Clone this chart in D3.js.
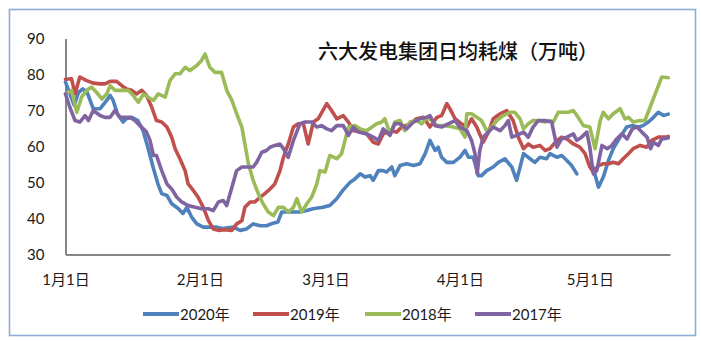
<!DOCTYPE html>
<html>
<head>
<meta charset="utf-8">
<script src="https://cdn.jsdelivr.net/npm/d3@7/dist/d3.min.js"></script>
<style>
  html, body { margin: 0; padding: 0; background: #fff; }
  svg { display: block; }
</style>
</head>
<body>
<div id="chart"></div>
<script>
// Daily average coal burn of the six big power groups (10k tonnes).
// Each series: [day offset from Jan 1, value]; null marks a gap.
const series2020 = [
  [0,77.9],[2,71.5],[3,75],[4,76],[5,75],[6.4,70.5],[8,70.5],[9.5,72.8],[10.3,74.2],[11,72.8],
  [12,69],[13.3,66.8],[14,67.7],[15.3,68.1],[16.7,67.2],[17.9,64.4],[19,59.8],[20.2,54.3],[21.3,49.7],
  [22.2,46.9],[23.4,46.4],[24.5,44.1],[26,42.8],[27.1,41.4],[28,43.1],[29.1,40.4],[30.3,38.5],
  [31.8,37.6],[33.3,37.6],[34.9,37.6],[36.3,37.2],[38.7,37.6],[40.3,36.7],[41.8,37.1],[43.3,38.5],
  [44.9,38],[46.4,38],[47.9,38.7],[49,39],[49.9,41.8],[51,41.8],[54,41.8],[55.7,42.2],[57.1,42.7],
  [59.4,43.1],[61,43.6],[62.6,45.5],[64,47.8],[65.7,50.1],[66.8,51],[68,52.4],[69.1,51.5],[70.3,51.9],
  [71,50.6],[72.2,53.3],[73.3,53.3],[74.1,52.9],[75.3,54.3],[76,51.9],[77.2,54.7],[78.7,55.2],
  [80.3,54.7],[81.8,55.2],[83,58],[84.1,61.7],[85.3,58.9],[86,59.8],[86.8,57],[88,55.6],[89.5,55.6],
  [91,57],[92.2,58.9],[93,57],[94.1,57],[95.3,51.9],[96,51.9],[97.2,53.3],[98.7,54.3],[99.9,55.6],
  [101.4,56.6],[103,54.3],[104.1,50.6],[105.7,58],[107.2,56.6],[108.3,55.6],[109.5,57],[111,56.6],
  [111.8,58],[113.4,57],[114.5,57.5],[115.7,56.1],[116.8,54.7],[118,52.4],
  [120,null],
  [121.7,54.3],[123,48.7],[124.1,51.5],[125.3,56.1],[126.4,59.4],[128,62.6],[129.5,65.4],[130.7,65.8],
  [132.2,65.4],[133.3,65.8],[134.5,66.8],[135.7,68.1],[136.8,69.5],[138,68.6],[139.1,69]
];

const series2019 = [
  [0,78.7],[1.4,78.8],[2.2,74.6],[3.3,79.3],[4.9,78.3],[6.4,77.6],[8,77.4],[9.1,77.4],[10.3,78.1],
  [11.8,78.1],[13,76.9],[14.1,76],[15.3,75.6],[16.4,74.6],[17.6,75.6],[18.7,74.2],[19.9,70.9],[21,67.2],
  [22.2,66.8],[23.4,65.4],[24.5,62.6],[25.3,59.4],[26.4,56.6],[27.6,53.3],[28.3,49.6],[29.5,47.8],
  [30.6,45.9],[31.8,43.1],[33,39.4],[34.1,37.1],[35.3,36.7],[36.8,36.9],[38.4,36.7],[39.5,38.5],
  [40.7,39.4],[41.4,43.1],[42.6,44.6],[43.7,44.6],[44.9,45.9],[46,46.9],[47.2,48.2],[48.3,49.6],
  [49.5,53.3],[50.3,57],[51.4,60.7],[52.6,65.4],[53.7,66.3],[54.9,66.3],[56,60.7],[57.2,66.8],
  [58.3,67.7],[60.3,71.9],[61.4,70],[62.6,67.7],[64.1,68.6],[65.3,66.8],[66.4,64.4],[68,64.2],
  [69.5,63.5],[71,61.2],[72.2,60.7],[73.3,63.5],[74.9,64.4],[76.4,64],[77.6,65.4],[79.5,66.3],
  [81,67.7],[82.6,68.1],[84.1,65.4],[85.7,68.1],[86.8,68.6],[88,71.9],[88.7,70.5],[89.9,67.7],
  [91.4,66.3],[92.6,65.4],[93.7,67.7],[94.9,65.4],[96.4,61.2],[97.6,64],[98.7,67.7],[100.3,69.1],
  [101.8,70],[103.3,67.2],[104.5,62.6],[105.7,59.4],[106.8,60.7],[107.9,59.8],[109.5,60.3],
  [110.7,58.9],[111.8,59.4],[113.4,61.7],[114.5,62.6],[115.7,62.1],[117.2,60.7],[118.7,59.8],
  [119.9,58],[121,54.3],[121.8,52.9],[123,54.7],[124.1,55.2],[125.3,55.2],[126.4,55.6],[127.6,55.2],
  [128.7,56.6],[129.9,58],[131,59.4],[132.6,60.3],[134.1,59.8],[135.3,61.7],[136.8,62.6],
  [138.4,62.6],[139.1,62.8]
];

const series2018 = [
  [0,74.6],[1.4,75.6],[2.6,69.5],[3.7,73.7],[4.9,75.6],[6,76.5],[7.2,75],[8.4,73.2],[9.5,74.6],
  [10.3,76.9],[11.4,75.6],[13,75.6],[14.5,75.6],[15.6,74.2],[16.8,72.3],[18,74.6],[19.1,73.7],
  [20.3,72.8],[21.4,74.6],[23,73.7],[24.1,78.3],[25.3,80.2],[26.4,80.2],[27.6,82],[28.7,81.1],
  [30.3,82.5],[31.4,83.9],[32.2,85.7],[33.3,82],[34.5,80.6],[36,80.6],[37.2,75.6],[38.4,72.8],
  [39.5,69.1],[40.7,65.4],[41.4,60.7],[42.2,55.2],[43.3,50.6],[44.5,46.9],[45.6,44.1],[46.8,41.8],
  [48,40.8],[49.1,43.1],[50.3,43.1],[51.4,41.8],[52.6,43.1],[53.4,45.5],[54.5,41.8],[55.7,44.1],
  [56.8,45.9],[58,49.6],[58.7,53.3],[59.9,52.9],[61,57.5],[62.6,56.6],[63.7,58],[64.5,61.7],
  [65.3,65.4],[66.8,65.8],[68,64.9],[69.5,64.4],[71.8,66.3],[73,66.8],[73.7,67.7],[74.9,63.5],
  [76,66.8],[77.2,67.2],[78.3,64.4],[79.5,66.8],[81,67.2],[82.2,66.3],[83.4,68.1],[84.5,67.2],
  [85.7,65.8],[87.6,65.8],[89.5,65.4],[91,64.9],[92.2,62.6],[92.6,69.1],[93.7,69.1],[94.9,68.1],
  [96,67.2],[97.2,64.4],[98.4,65.4],[99.5,67.2],[101,68.6],[102.6,69.5],[103.7,69.5],[104.9,67.7],
  [105.7,64.9],[106.8,66.3],[107.9,67.2],[109.1,67.2],[110.6,66.8],[111.8,67.2],[112.6,66.8],
  [113.7,69.5],[114.9,69.5],[116,69.5],[117.2,70],[118.3,68.1],[119.5,65.8],[121,65.4],[122.2,59.4],
  [123.4,67.2],[124.1,69.5],[125.3,67.7],[126.4,69.1],[128,70.5],[129.1,67.7],[129.9,68.1],
  [131,66.8],[132.6,67.2],[133.7,67.2],[134.9,70.9],[136.4,75.6],[137.6,79.3],[139.1,79.1]
];

const series2017 = [
  [0,74.6],[1,70.9],[2.2,67.2],[3.3,66.8],[4.5,68.6],[5.3,67.2],[6.4,70],[8,68.6],[9.1,68.1],
  [10.3,68.1],[11.4,70],[12.6,68.1],[13.7,68.1],[14.9,68.1],[16,67.2],[17.2,65.8],[18.7,64],
  [19.5,61.7],[20.3,57.5],[21,57.5],[22.2,53.3],[23.4,49.6],[24.5,48.2],[25.7,45.9],[26.8,44.6],
  [28.3,43.6],[29.9,43.1],[31.4,42.7],[33,42.7],[34.1,42.2],[35.3,44.6],[36.4,45],[37.2,43.6],
  [38.4,48.7],[39.5,53.3],[40.7,54.3],[42.2,54.3],[43.3,54.3],[44.1,55.6],[45.3,58.4],[46.4,58.9],
  [47.2,59.8],[48.3,60.3],[49.5,60.7],[50.3,59.4],[51.4,57],[52.6,61.7],[54.1,66.3],[55.3,66.8],
  [56.8,66.8],[58,65.4],[59.1,65.8],[60.3,64.9],[61.4,64.4],[62.6,65.8],[64.1,65.8],[65.3,63.1],
  [66.4,65.4],[67.6,64],[69.5,63.5],[71,62.6],[72.2,61.7],[73.3,64.9],[74.9,63.1],[76,66.3],
  [77.2,66.3],[78.7,64.9],[80.3,66.8],[81.8,67.7],[83.4,68.1],[84.1,68.6],[85.3,65.8],[86.8,65.4],
  [88.3,66.3],[89.9,67.2],[91,65.4],[92.6,64.4],[93.7,61.7],[94.5,58],[95,52.4],[95.6,58.9],
  [96.4,62.6],[97.6,64],[98.7,65.4],[100.3,64.4],[101.4,65.8],[102.2,67.2],[103,62.6],[104.1,63.1],
  [105.7,64],[106.8,62.6],[107.9,65.4],[109.1,67.2],[110.6,67.2],[112.2,66.8],[113.4,59.8],
  [114.5,62.1],[115.7,62.6],[117.2,63.5],[118,61.7],[119.1,62.6],[120.3,64],[121,59.8],[121.8,52.4],
  [122.6,53.3],[123.8,60.3],[125,59.4],[126.1,60.3],[127.2,62.1],[128.4,63.5],[129.6,62.1],
  [130.8,64.9],[131.9,65.4],[133,64],[134.2,62.6],[135,59.4],[135.7,61.2],[136.8,60.3],
  [137.6,62.1],[139.1,62.4]
];

const seriesNames = ["2020年", "2019年", "2018年", "2017年"];
const seriesColors = ["#4F81BD", "#C0504D", "#9BBB59", "#8064A2"];
const yTicks = [30, 40, 50, 60, 70, 80, 90];
const xTickLabels = ["1月1日", "2月1日", "3月1日", "4月1日", "5月1日"];
const xTickMonths = [0, 1, 2, 3, 4];
const titleText = "六大发电集团日均耗煤（万吨）";

const W = 701, H = 341;
const plot = { left: 65.5, right: 670, top: 38.5, bottom: 254.5 };
const latin = "Lato, 'Noto Sans CJK SC', sans-serif";
const cjk = "'Noto Sans CJK SC', sans-serif";

const svg = d3.select("#chart").append("svg")
  .attr("width", W).attr("height", H);

// chart frame
svg.append("rect")
  .attr("x", 9.5).attr("y", 9.5)
  .attr("width", 686).attr("height", 326)
  .attr("fill", "#fff")
  .attr("stroke", "#8eaad6").attr("stroke-width", 1.6);

const start = new Date(2020, 0, 1);
const dayToDate = d => new Date(start.getTime() + d * 864e5);

const x = d3.scaleTime()
  .domain([start, new Date(2020, 4, 19, 12)])
  .range([plot.left, plot.right]);
const y = d3.scaleLinear()
  .domain([30, 90])
  .range([plot.bottom, plot.top]);

// title
svg.append("text")
  .attr("x", 458).attr("y", 50)
  .attr("text-anchor", "middle")
  .attr("dominant-baseline", "central")
  .attr("font-family", cjk)
  .attr("font-size", 20)
  .attr("font-weight", 500)
  .attr("fill", "#111")
  .text(titleText);

// y axis
const yAxis = svg.append("g")
  .attr("transform", `translate(${plot.left},0)`)
  .call(d3.axisLeft(y).tickValues(yTicks).tickSize(0).tickPadding(21).tickFormat(d3.format("d")));
yAxis.select(".domain").attr("stroke", "#868686").attr("stroke-width", 2);
yAxis.selectAll("text")
  .attr("font-family", latin).attr("font-size", 15).attr("fill", "#1a1a1a");

// x axis
const xAxis = svg.append("g")
  .attr("transform", `translate(0,${plot.bottom})`)
  .call(d3.axisBottom(x)
    .tickValues(xTickMonths.map(m => new Date(2020, m, 1)))
    .tickSize(0)
    .tickFormat((d, i) => xTickLabels[i]));
xAxis.select(".domain").attr("stroke", "#868686").attr("stroke-width", 2);
xAxis.selectAll("text")
  .attr("y", 24).attr("dy", null)
  .attr("dominant-baseline", "central")
  .attr("font-family", latin).attr("font-size", 15).attr("fill", "#1a1a1a");

// series lines
const allSeries = [series2020, series2019, series2018, series2017];
const line = d3.line()
  .defined(p => p[1] !== null)
  .x(p => x(dayToDate(p[0])))
  .y(p => y(p[1]));

svg.append("g").selectAll("path")
  .data(allSeries)
  .join("path")
  .attr("d", line)
  .attr("fill", "none")
  .attr("stroke", (d, i) => seriesColors[i])
  .attr("stroke-width", 3.6)
  .attr("stroke-linejoin", "round")
  .attr("stroke-linecap", "round");

// legend
const legendX = [143, 253, 365, 475];
const legend = svg.append("g").selectAll("g")
  .data(seriesNames)
  .join("g")
  .attr("transform", (d, i) => `translate(${legendX[i]},314)`);
legend.append("line")
  .attr("x1", 0).attr("x2", 36)
  .attr("stroke", (d, i) => seriesColors[i])
  .attr("stroke-width", 4);
legend.append("text")
  .attr("x", 37).attr("y", 0)
  .attr("dominant-baseline", "central")
  .attr("font-family", latin).attr("font-size", 15).attr("fill", "#1a1a1a")
  .text(d => d);
</script>
</body>
</html>
